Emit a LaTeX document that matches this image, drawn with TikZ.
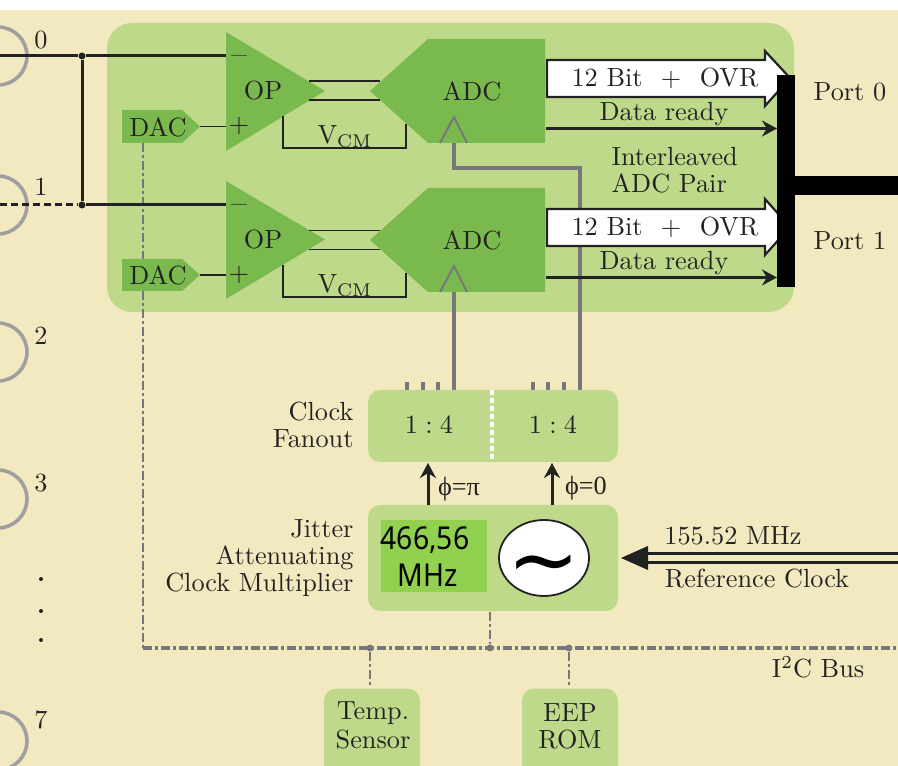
\documentclass[tikz,border=0pt]{standalone}
\usepackage{fontspec}
\newfontfamily\sansf[FakeStretch=0.9]{Noto Sans}
\newfontfamily\greekf{Liberation Serif}
\newfontfamily\tildef{DejaVu Sans}
\usetikzlibrary{arrows.meta,calc,shapes.geometric}
\definecolor{tan}{HTML}{F3E9C1}
\definecolor{lgreen}{HTML}{BFD98A}
\definecolor{dgreen}{HTML}{7AB94E}
\definecolor{bgreen}{HTML}{92D050}
\definecolor{ink}{HTML}{222222}
\definecolor{gline}{HTML}{77777A}
\def\u{0.381pt}
\tikzset{
 x=0.381pt,y=-0.381pt,
 lbl/.style={text=ink,inner sep=0pt,font=\fontsize{10}{10.3}\selectfont},
 gbox/.style={fill=lgreen,rounded corners=12*\u,inner sep=0pt,text=ink},
 wire/.style={draw=ink,line width=3*\u},
 thin wire/.style={draw=ink,line width=1.8*\u},
 clockline/.style={draw=gline,line width=3.2*\u},
 tick/.style={draw=gline,line width=3.2*\u},
 bus/.style={draw=gline,line width=3.6*\u,dash pattern=on 9*\u off 3*\u on 3*\u off 3*\u},
 busv/.style={draw=gline,line width=2.8*\u,dash pattern=on 9*\u off 3*\u on 3*\u off 3*\u},
 ring/.style={draw=gray!75,line width=3.6*\u},
 tip/.style={-{Stealth[length=15*\u,width=16*\u]}},
 bigarrow/.style={draw=ink,fill=white,line width=2.2*\u,line join=miter},
 dot/.style={circle,fill=#1,inner sep=0pt,minimum size=7*\u},
}
\begin{document}
\begin{tikzpicture}
\useasboundingbox (0,0) rectangle (898,766);
\clip (0,0) rectangle (898,766);
\fill[white] (0,0) rectangle (898,766);
\fill[tan] (0,10) rectangle (898,766);
% input rings
\foreach \n/\cy in {r0/56,r1/205,r2/352,r3/499,r7/741}
  \draw[ring] (-2,\cy) circle[radius=29] ;
\foreach \n/\yy/\t in {l0/40/0,l1/187/1,l2/336/2,l3/483/3,l7/720/7}
  \node[lbl] (\n) at (41,\yy) {\t};
\foreach \n/\yy in {d1/579,d2/611,d3/640}
  \node[circle,fill=ink,inner sep=0pt,minimum size=4*\u] (\n) at (41,\yy) {};
% interleaved block
\fill[lgreen,rounded corners=25*\u] (107,23) rectangle (794,312);
% coordinates
\coordinate (in0) at (0,56);
\coordinate (in1) at (0,205);
\node[dot=ink] (j0) at (82,56) {};
\node[dot=ink] (j1) at (82,205) {};
\coordinate (op0m) at (226,56);
\coordinate (op1m) at (226,205);
\coordinate (op0p) at (226,126.5);
\coordinate (op1p) at (226,275);
% I2C bus
\coordinate (busL) at (143,648);
\coordinate (busR) at (898,648);
\node[dot=gline] (b1) at (370,648) {};
\node[dot=gline] (b2) at (490,648) {};
\node[dot=gline] (b3) at (569,648) {};
\coordinate (dac0b) at (143,143);
\coordinate (dac1t) at (143,259);
\coordinate (dac1b) at (143,291);
\draw[busv] (dac0b) -- (dac1t);
\draw[busv] (dac1b) -- (busL);
\draw[bus] (busL) -- (busR);
% clock lines
\coordinate (a0tip) at (454,143);
\coordinate (a1tip) at (454,292);
\coordinate (f0) at (580,390);
\coordinate (f1) at (454,390);
\draw[clockline] (a0tip) -- (454,168) -- (580,168) -- (f0);
\draw[clockline] (a1tip) -- (f1);
% OP amps
\fill[dgreen] (226,32) -- (325,91) -- (226,151) -- cycle;
\fill[dgreen] (226,181) -- (325,239.5) -- (226,299) -- cycle;
\node[lbl] (op0) at (263,91) {OP};
\node[lbl] (op1) at (263,240) {OP};
\node[lbl,text=ink!65!dgreen] at (239,56) {$-$};
\node[lbl] at (239,126) {$+$};
\node[lbl,text=ink!65!dgreen] at (239,205) {$-$};
\node[lbl] at (239,275) {$+$};
% ADCs
\fill[dgreen] (370,91) -- (428,39) -- (545,39) -- (545,143) -- (428,143) -- cycle;
\fill[dgreen] (370,240) -- (428,188) -- (545,188) -- (545,292) -- (428,292) -- cycle;
\node[lbl] (adc0) at (472,91) {ADC};
\node[lbl] (adc1) at (472,240) {ADC};
\draw[clockline,line width=2*\u] (440,143) -- (454,117) -- (467,143);
\draw[clockline,line width=2*\u] (440,292) -- (454,266) -- (467,292);
% differential wires
\draw[thin wire] (309,81) -- (380,81);
\draw[thin wire] (309,100) -- (380,100);
\draw[thin wire] (309,230.5) -- (380,230.5);
\draw[thin wire] (309,249.5) -- (380,249.5);
\draw[thin wire,line width=1.5*\u] (283,116) -- (283,148) -- (406,148) -- (406,124);
\draw[thin wire,line width=1.5*\u] (283,265) -- (283,297) -- (406,297) -- (406,273);
\node[lbl] (vcm0) at (345,137) {$\mathrm{V}_{\mathrm{CM}}$};
\node[lbl] (vcm1) at (345,286) {$\mathrm{V}_{\mathrm{CM}}$};
% DACs
\fill[dgreen] (122,110) -- (182,110) -- (200,126.5) -- (182,143) -- (122,143) -- cycle;
\fill[dgreen] (122,259) -- (182,259) -- (200,275) -- (182,291) -- (122,291) -- cycle;
\node[lbl] (dac0) at (158,127) {DAC};
\node[lbl] (dac1) at (158,275) {DAC};
\coordinate (dac0o) at (200,126.5);
\coordinate (dac1o) at (200,275);
\draw[thin wire] (dac0o) -- (op0p);
\draw[thin wire] (dac1o) -- (op1p);
% inputs
\draw[wire] (in0) -- (j0) -- (op0m);
\draw[wire] (j0) -- (j1);
\draw[wire] (j1) -- (op1m);
\draw[wire,dash pattern=on 7*\u off 4*\u] (in1) -- (j1);
% big arrows
\draw[bigarrow] (547,60) -- (765,60) -- (765,51) -- (790,78) -- (765,106) -- (765,97) -- (547,97) -- cycle;
\draw[bigarrow] (547,209) -- (765,209) -- (765,199) -- (790,227) -- (765,255) -- (765,246) -- (547,246) -- cycle;
\node[lbl] (b12a) at (665,78.5) {12 Bit\hspace{7pt}$+$\hspace{7pt}OVR};
\node[lbl] (b12b) at (665,227.5) {12 Bit\hspace{7pt}$+$\hspace{7pt}OVR};
% port bars
\fill[black] (777,75) rectangle (795,287);
\fill[black] (795,176) rectangle (898,195);
\coordinate (adc0o) at (546,128.5);
\coordinate (adc1o) at (546,277.5);
\coordinate (p0) at (777,128.5);
\coordinate (p1) at (777,277.5);
\draw[wire,tip] (adc0o) -- (p0);
\draw[wire,tip] (adc1o) -- (p1);
\node[lbl] (dr0) at (664,114) {Data ready};
\node[lbl] (dr1) at (664,263) {Data ready};
\node[lbl,align=left,anchor=west] (pair) at (611,170) {Interleaved\\ADC Pair};
\node[lbl] (port0) at (850,91.5) {Port 0};
\node[lbl] (port1) at (850,240.5) {Port 1};
% clock fanout
\foreach \xx in {407,423,438,533,548,564}
  \draw[tick] (\xx,382) -- (\xx,390);
\node[gbox,minimum width=250*\u,minimum height=72*\u] (fan) at (493,426) {};
\draw[white,line width=4*\u,dash pattern=on 5*\u off 3*\u] (492,390) -- (492,462);
\node[lbl] (f0t) at (429,425) {$1:4$};
\node[lbl] (f1t) at (553,425) {$1:4$};
\node[lbl,align=right,anchor=east] (fanlbl) at (354,425) {Clock\\Fanout};
% jitter block
\node[gbox,minimum width=250*\u,minimum height=106*\u] (jit) at (493,558) {};
\node[fill=bgreen,inner sep=0pt,minimum width=106*\u,minimum height=72*\u] (mhzbox) at (434,556) {};
\node[inner sep=0pt,text=black,font=\sansf\fontsize{12}{13}\selectfont] (mhz1) at (425,540) {466,56};
\node[inner sep=0pt,text=black,font=\sansf\fontsize{12}{13}\selectfont] (mhz2) at (428,575) {MHz};
\node[ellipse,draw=ink,fill=white,line width=1.8*\u,minimum width=90*\u,minimum height=76*\u,inner sep=0pt] (osc) at (544,558) {};
\node[inner sep=0pt,text=black,font=\tildef\fontsize{33}{33}\selectfont] (tilde) at (544,572) {∼};
\node[lbl,align=right,anchor=east] (jitlbl) at (354,558.5) {Jitter\\Attenuating\\Clock Multiplier};
\coordinate (j428) at (428,505);
\coordinate (j552) at (552,505);
\coordinate (f428) at (428,463);
\coordinate (f552) at (552,463);
\draw[wire,tip] (j428) -- (f428);
\draw[wire,tip] (j552) -- (f552);
\node[lbl,font=\greekf\fontsize{10}{12}\selectfont] (phipi) at (459,489) {ϕ=π};
\node[lbl,font=\greekf\fontsize{10}{12}\selectfont] (phi0) at (586,488) {ϕ=0};
% reference clock
\coordinate (r1a) at (898,553.5);
\coordinate (r1b) at (640,553.5);
\coordinate (r2a) at (898,562.5);
\coordinate (r2b) at (640,562.5);
\draw[wire,line width=3.6*\u] (r1a) -- (r1b);
\draw[wire,line width=3.6*\u] (r2a) -- (r2b);
\fill[ink] (621,558) -- (648,546) -- (648,570) -- cycle;
\node[lbl] (f155) at (733,536) {155.52 MHz};
\node[lbl] (refc) at (757,579) {Reference Clock};
% peripherals
\node[gbox,minimum width=96*\u,minimum height=100*\u,anchor=north] (temp) at (372,688) {};
\node[gbox,minimum width=96*\u,minimum height=100*\u,anchor=north] (eep) at (570,688) {};
\node[lbl] (t1) at (373,713) {Temp.};
\node[lbl] (t2) at (373,740) {Sensor};
\node[lbl] (e1) at (570,713) {EEP};
\node[lbl] (e2) at (570,740) {ROM};
\draw[busv] (jit.south -| b2) -- (b2);
\draw[busv] (b1) -- (b1 |- temp.north);
\draw[busv] (b3) -- (b3 |- eep.north);
\node[lbl] (i2c) at (818,667) {I\textsuperscript{2}C Bus};
\end{tikzpicture}
\end{document}
